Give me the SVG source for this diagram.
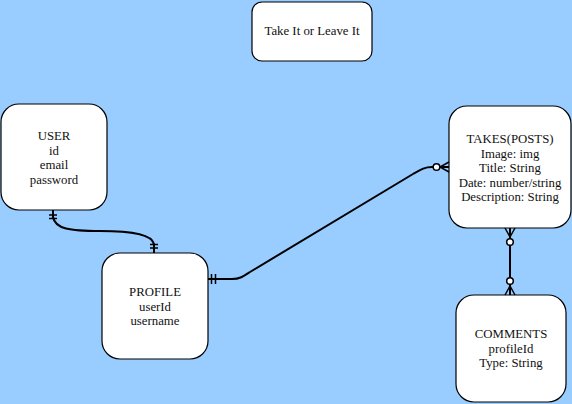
<svg xmlns="http://www.w3.org/2000/svg" width="572" height="404" viewBox="0 0 572 404">
<style>
.box{fill:#fff;stroke:#000;stroke-width:1.2}
.t{font-family:"Liberation Serif","Times New Roman",serif;font-size:12.8px;fill:#111;text-anchor:middle}
.c{fill:none;stroke:#000;stroke-width:2}
.m{fill:none;stroke:#000;stroke-width:1.5}
.o{fill:#fff;stroke:#000;stroke-width:1.5}
</style>
<rect width="572" height="404" fill="#99ccff"/>
<g id="title">
<rect class="box" x="252" y="2" width="120" height="59" rx="10"/>
<text class="t" x="312" y="34.5">Take It or Leave It</text>
</g>
<g id="user">
<rect class="box" x="1" y="104" width="106" height="106" rx="18"/>
<text class="t" x="54" y="140">USER</text>
<text class="t" x="54" y="154.5">id</text>
<text class="t" x="54" y="169">email</text>
<text class="t" x="54" y="183.5">password</text>
</g>
<g id="profile">
<rect class="box" x="102" y="253" width="106" height="106" rx="18"/>
<text class="t" x="155" y="296">PROFILE</text>
<text class="t" x="155" y="310.5">userId</text>
<text class="t" x="155" y="325">username</text>
</g>
<g id="takes">
<rect class="box" x="449" y="106" width="122" height="122" rx="18"/>
<text class="t" x="510" y="143">TAKES(POSTS)</text>
<text class="t" x="510" y="157.5">Image: img</text>
<text class="t" x="510" y="172">Title: String</text>
<text class="t" x="510" y="186.5">Date: number/string</text>
<text class="t" x="510" y="201">Description: String</text>
</g>
<g id="comments">
<rect class="box" x="456" y="295" width="110" height="107" rx="18"/>
<text class="t" x="511" y="338">COMMENTS</text>
<text class="t" x="511" y="352.5">profileId</text>
<text class="t" x="511" y="367">Type: String</text>
</g>
<g id="connectors">
<path class="c" d="M53,210 V217 C55,229 70,231 100,231 C135,231 152,235 154,244 V253"/>
<path class="m" d="M49,215 H57 M49,218.5 H57"/>
<path class="m" d="M150,244.5 H158 M150,248 H158"/>
<path class="c" d="M208,279 H232 C240,279 244,276 250,272 L413,174 C420,170 424,167 432,167 H449"/>
<path class="m" d="M211.5,274 V284 M215.5,274 V284"/>
<path class="m" d="M449,162 L440,167 L449,172"/>
<circle class="o" cx="436.5" cy="167" r="3.3"/>
<path class="c" d="M510,228 V295"/>
<path class="m" d="M505,228 L510,237 L515,228"/>
<circle class="o" cx="510" cy="242" r="3.3"/>
<path class="m" d="M505,295 L510,286 L515,295"/>
<circle class="o" cx="510" cy="281" r="3.3"/>
</g>
</svg>
